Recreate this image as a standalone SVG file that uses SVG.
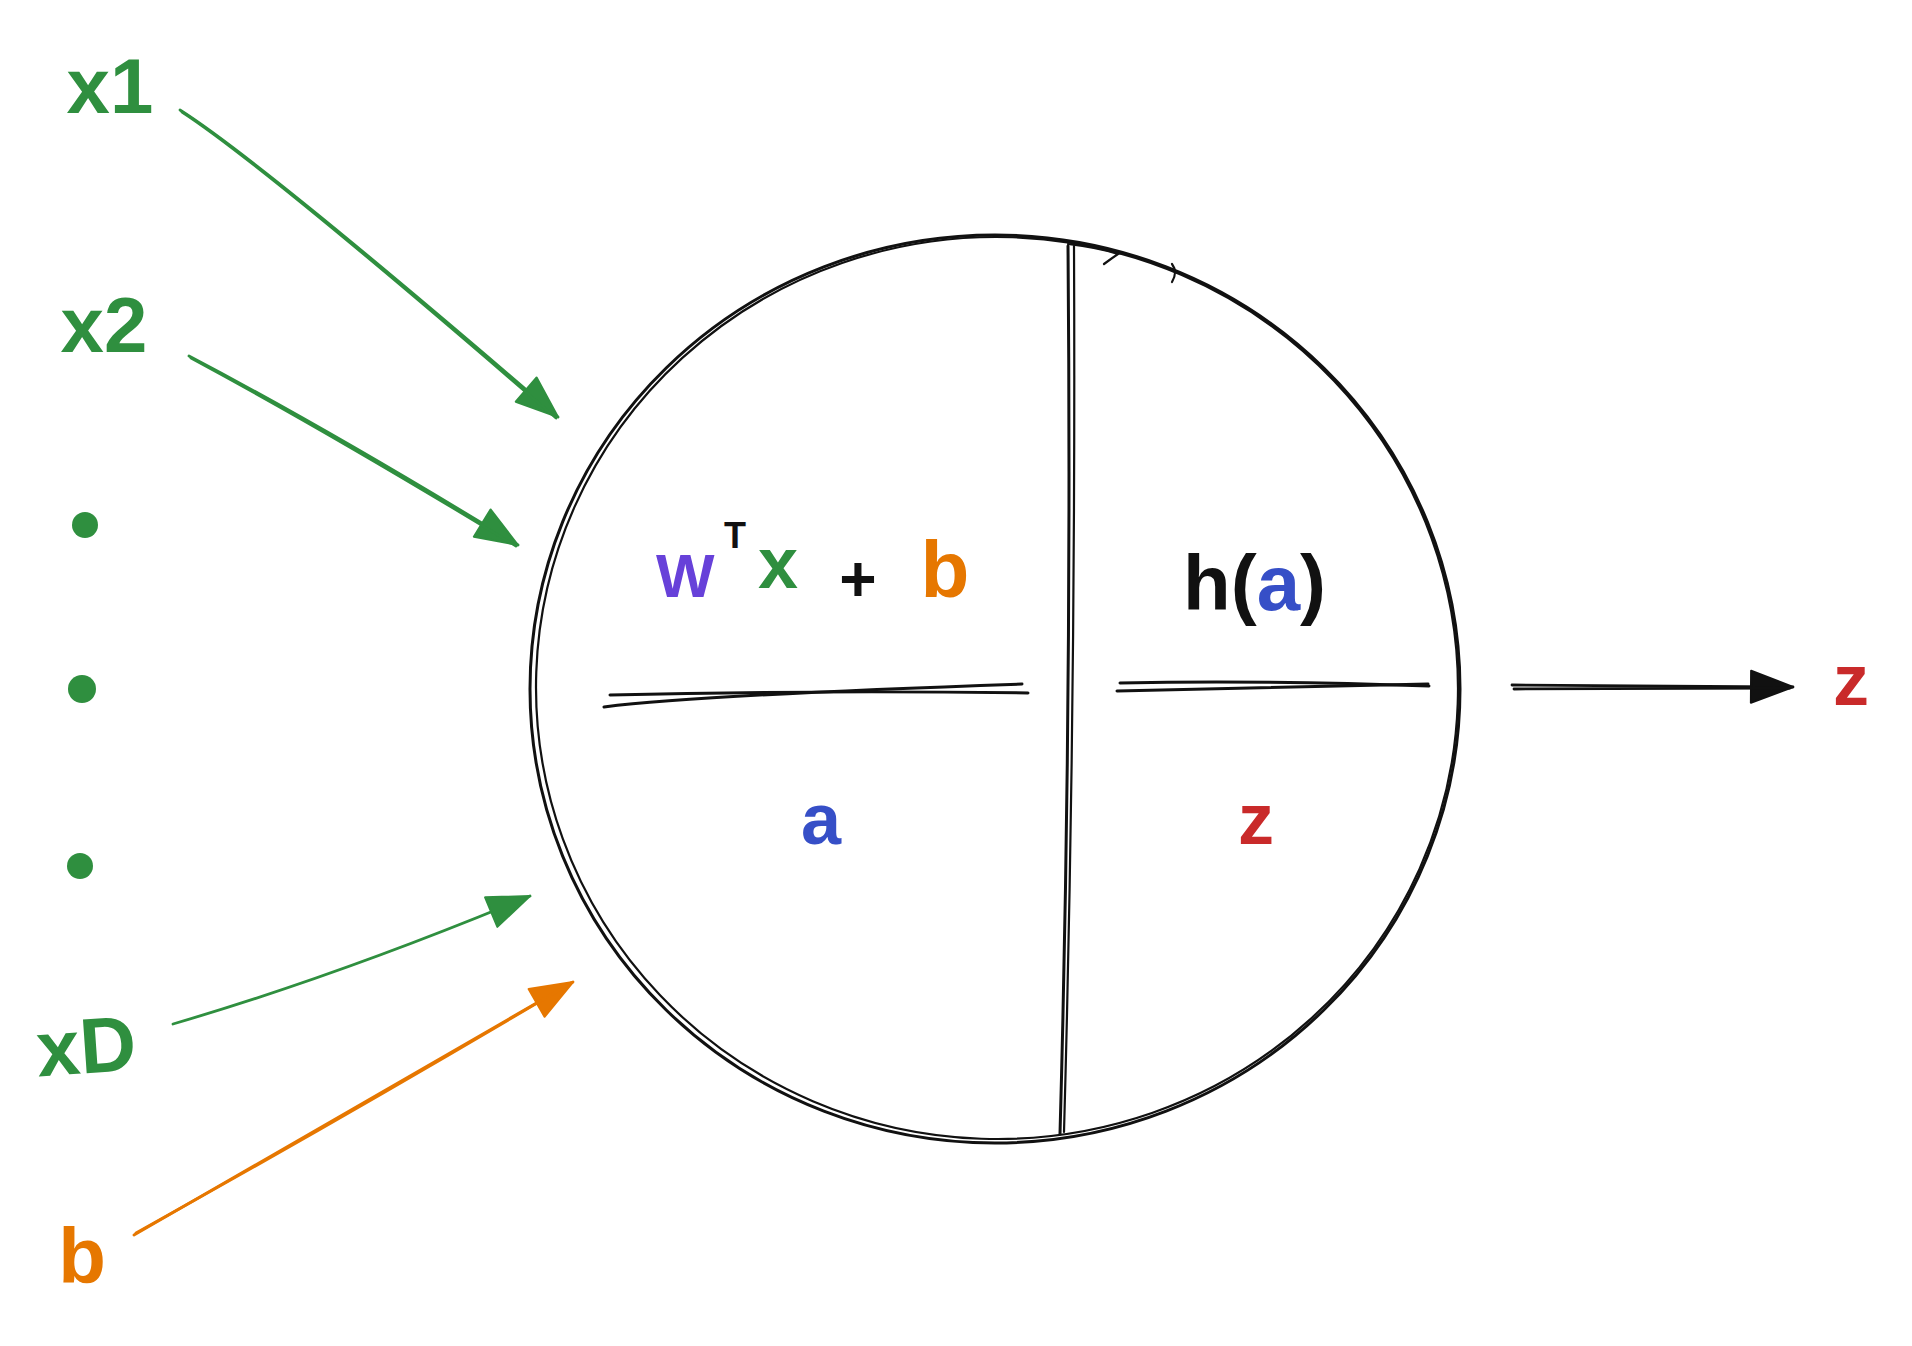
<svg xmlns="http://www.w3.org/2000/svg" width="1912" height="1346" viewBox="0 0 1912 1346">
<style>
.t{font-family:"Liberation Sans","Noto Sans",Arial,sans-serif;font-weight:bold}
.lbl{font-size:78px;fill:#2f8f3f}
.ink{fill:none;stroke:#111111;stroke-width:3;stroke-linecap:round}
.ink2{fill:none;stroke:#111111;stroke-width:2.2;stroke-linecap:round}
.g{fill:none;stroke:#2f8f3f;stroke-width:2.8;stroke-linecap:round}
.o{fill:none;stroke:#e67700;stroke-width:2.8;stroke-linecap:round}
.k{fill:none;stroke:#111111;stroke-width:2.8;stroke-linecap:round}
</style>
<defs>
<marker id="mg" markerUnits="userSpaceOnUse" markerWidth="50" markerHeight="40" refX="44" refY="18" orient="auto"><path d="M2,2 L44,18 L2,34 Z" fill="#2f8f3f" stroke="#2f8f3f" stroke-width="2" stroke-linejoin="round"/></marker>
<marker id="mo" markerUnits="userSpaceOnUse" markerWidth="50" markerHeight="40" refX="44" refY="18" orient="auto"><path d="M2,2 L44,18 L2,34 Z" fill="#e67700" stroke="#e67700" stroke-width="2" stroke-linejoin="round"/></marker>
<marker id="mk" markerUnits="userSpaceOnUse" markerWidth="50" markerHeight="40" refX="44" refY="18" orient="auto"><path d="M2,2 L44,18 L2,34 Z" fill="#111111" stroke="#111111" stroke-width="2" stroke-linejoin="round"/></marker>
</defs>
<rect width="1912" height="1346" fill="#ffffff"/>

<g id="connectors">
  <path class="g" d="M180,110 Q262,162 558,417" marker-end="url(#mg)"/>
  <path class="g" d="M182,112 Q265,166 556,418" stroke-width="1.6"/>
  <path class="g" d="M189,356 Q330,430 518,545" marker-end="url(#mg)"/>
  <path class="g" d="M191,358 Q332,434 516,546" stroke-width="1.6"/>
  <path class="g" d="M173,1024 Q340,975 530,896" marker-end="url(#mg)"/>
  <path class="o" d="M134,1235 Q350,1110 573,982" marker-end="url(#mo)"/>
  <path class="o" d="M136,1233 Q352,1113 571,983" stroke-width="1.6"/>
  <path class="k" d="M1512,685 L1793,687" marker-end="url(#mk)"/>
  <path class="k" d="M1514,689 L1790,688" stroke-width="1.8"/>
</g>

<g id="node-x1"><text class="t lbl" x="110" y="113" text-anchor="middle">x1</text></g>
<g id="node-x2"><text class="t lbl" x="104" y="352" text-anchor="middle">x2</text></g>
<g id="node-dots" fill="#2f8f3f">
  <circle cx="85" cy="525" r="13"/>
  <circle cx="82" cy="689" r="14"/>
  <circle cx="80" cy="866" r="13"/>
</g>
<g id="node-xD"><text class="t lbl" x="86" y="1073" text-anchor="middle" transform="rotate(-4 86 1045)">xD</text></g>
<g id="node-b"><text class="t lbl" x="82" y="1283" text-anchor="middle" style="fill:#e67700">b</text></g>

<g id="node-neuron">
  <ellipse class="ink" cx="995" cy="689" rx="465" ry="454"/>
  <ellipse class="ink2" cx="997" cy="688" rx="461" ry="451" transform="rotate(2 997 688)"/>
  <path class="ink2" d="M1068,244 Q1100,248 1118,254 Q1112,258 1104,264"/>
  <path class="ink2" d="M1172,264 Q1178,272 1172,282"/>
  <path class="ink" d="M1068,246 Q1072,700 1060,1134"/>
  <path class="ink2" d="M1074,246 Q1076,700 1064,1132"/>
  <path class="ink" d="M610,695 Q820,690 1028,693"/>
  <path class="ink" d="M604,707 Q700,695 1022,684"/>
  <path class="ink" d="M1120,683 Q1260,680 1429,686"/>
  <path class="ink" d="M1117,691 Q1250,688 1428,684"/>
  <text class="t" x="656" y="597" font-size="62" fill="#6741d9">W</text>
  <text class="t" x="735" y="548" font-size="36" fill="#111111" text-anchor="middle">T</text>
  <text class="t" x="778" y="588" font-size="72" fill="#2f8f3f" text-anchor="middle">x</text>
  <text class="t" x="858" y="601" font-size="64" fill="#111111" text-anchor="middle">+</text>
  <text class="t" x="945" y="597" font-size="80" fill="#e67700" text-anchor="middle">b</text>
  <text class="t" x="1183" y="610" font-size="78" fill="#111111">h(<tspan fill="#364fc7">a</tspan>)</text>
  <text class="t" x="821" y="844" font-size="72" fill="#364fc7" text-anchor="middle">a</text>
  <text class="t" x="1256" y="844" font-size="72" fill="#c92a2a" text-anchor="middle">z</text>
</g>

<g id="node-z"><text class="t" x="1851" y="705" font-size="72" fill="#c92a2a" text-anchor="middle">z</text></g>
</svg>
